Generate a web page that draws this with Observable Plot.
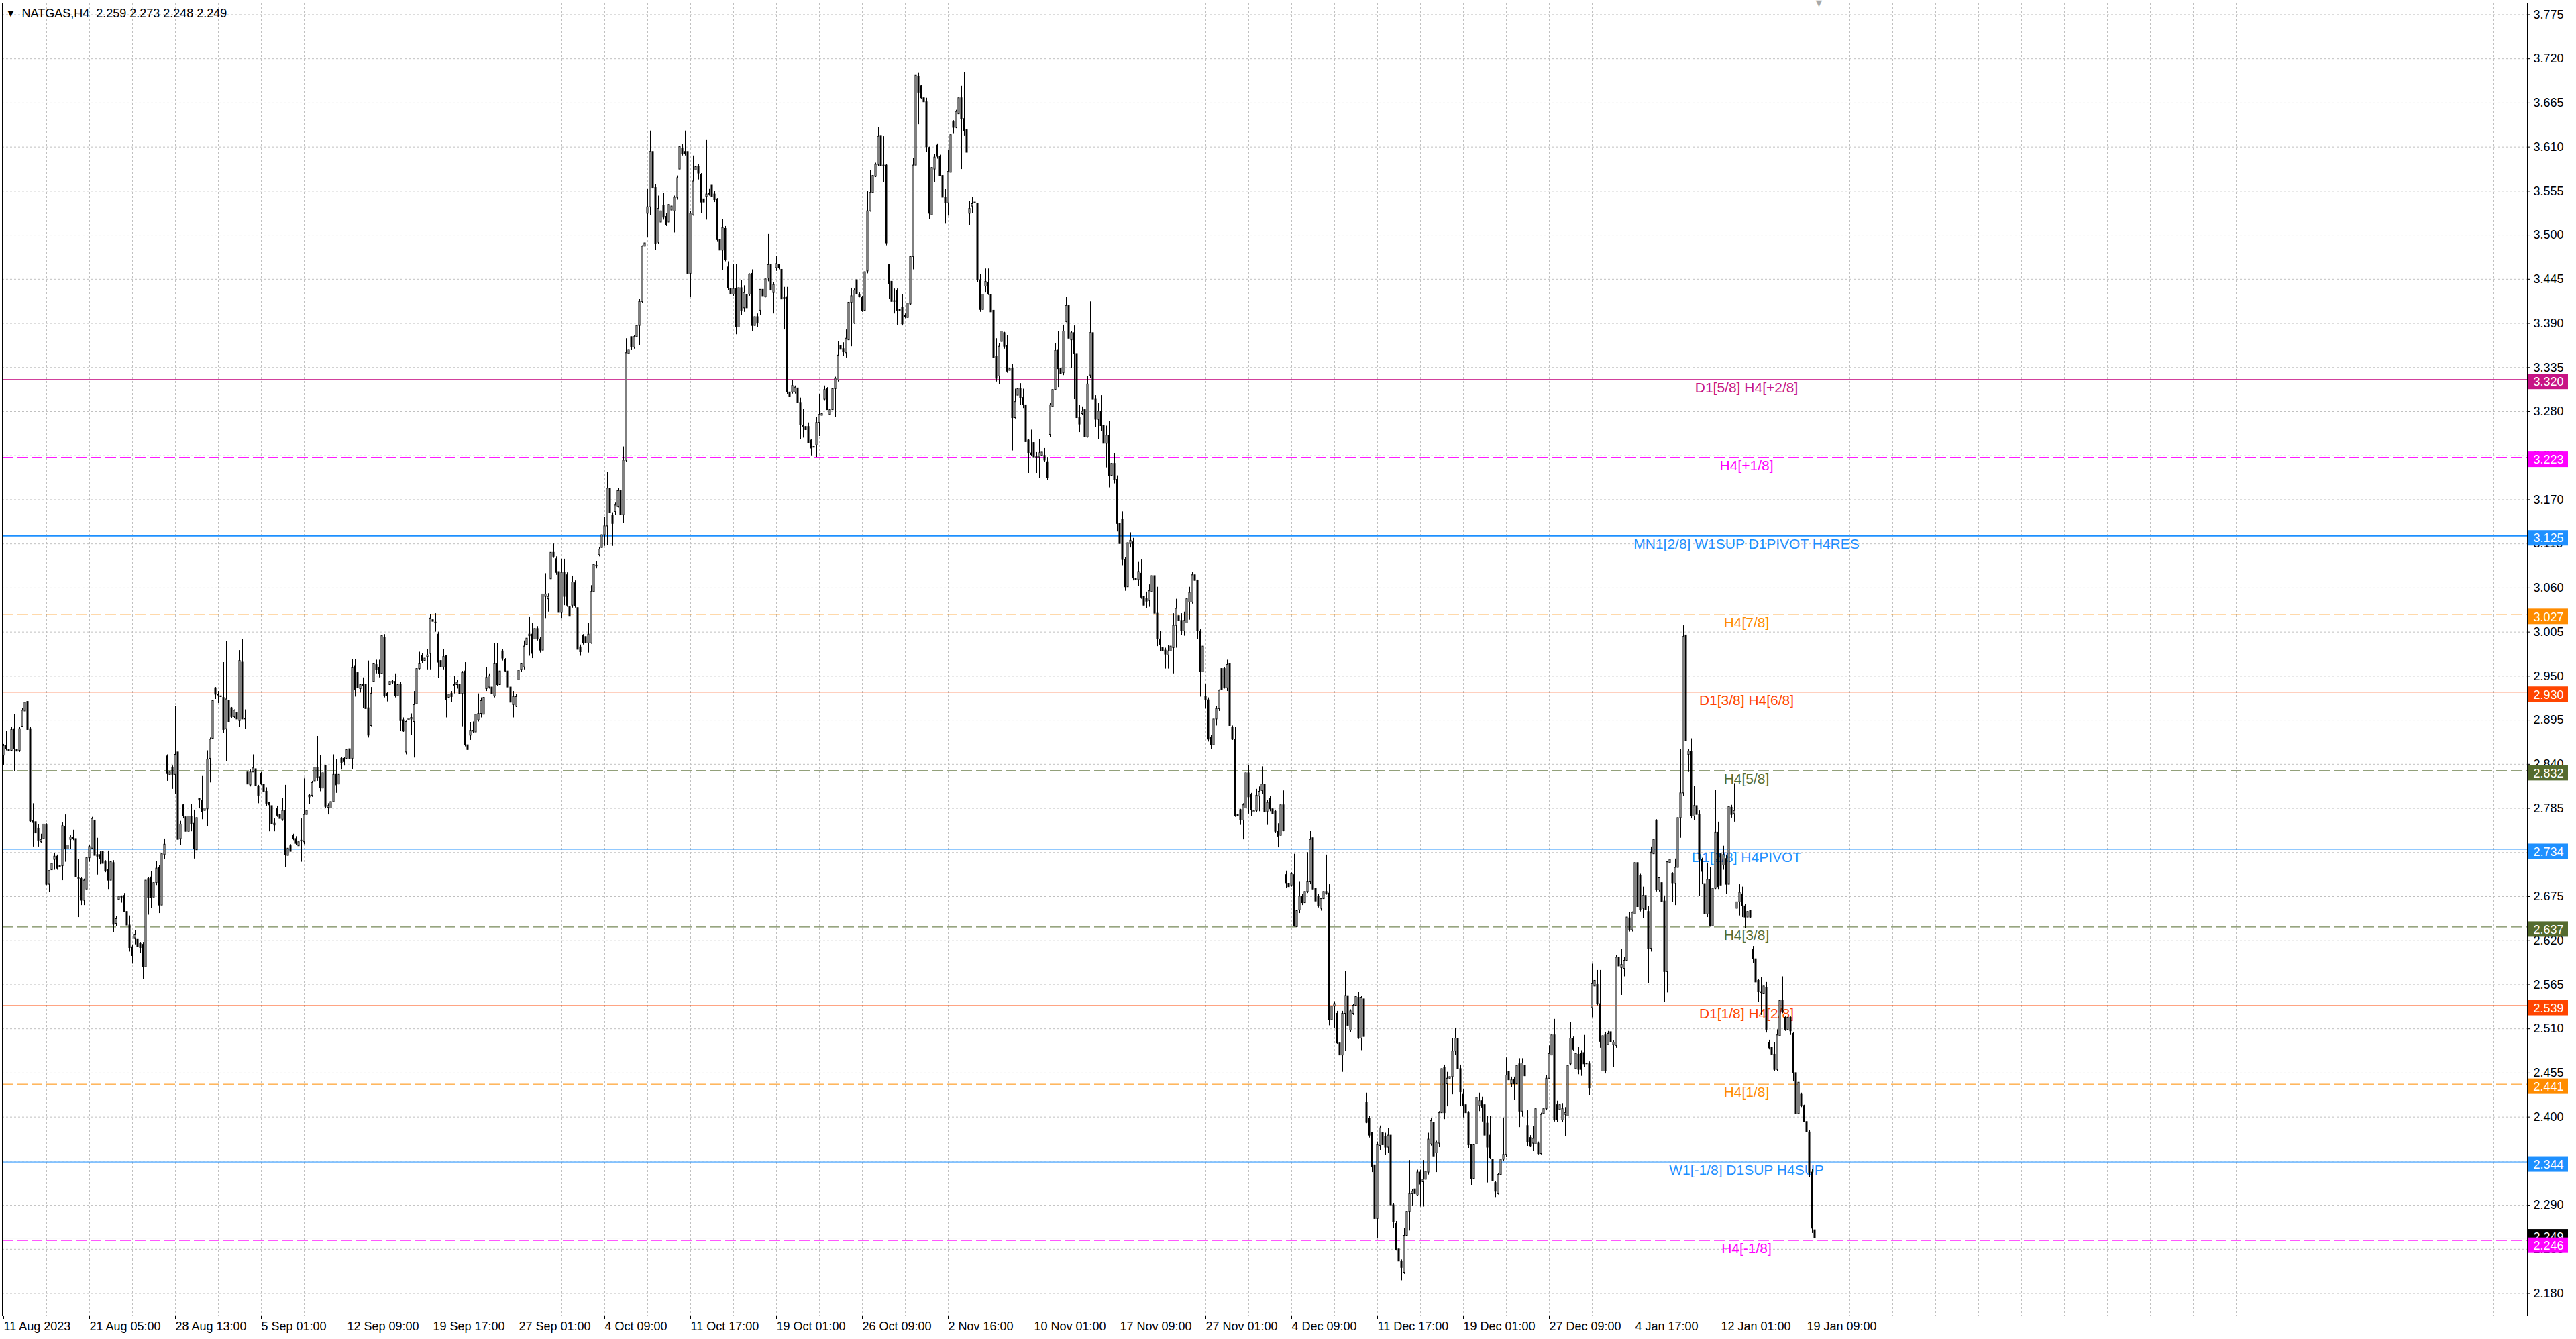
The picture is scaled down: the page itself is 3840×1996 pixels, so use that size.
<!DOCTYPE html>
<html>
<head>
<meta charset="utf-8">
<script src="https://cdn.jsdelivr.net/npm/d3@7"></script>
<script src="https://cdn.jsdelivr.net/npm/@observablehq/plot@0.6"></script>
<style>
  html, body { margin: 0; padding: 0; background: #ffffff; }
  #chart svg { display: block; }
</style>
</head>
<body>
<div id="chart"></div>
<script>
// ---------- DATA (prices in thousandths) ----------
const symbol = "NATGAS";
const period = "H4";

const open = [
2851,2863,2858,2857,2884,2858,2857,2887,2906,2918,
2884,2769,2768,2760,2743,2747,2764,2690,2708,2721,
2725,2712,2713,2762,2734,2746,2749,2747,2697,2697,
2670,2684,2723,2735,2770,2727,2727,2731,2718,2708,
2695,2717,2641,2671,2675,2676,2656,2639,2612,2623,
2622,2616,2615,2587,2697,2699,2674,2692,2711,2664,
2727,2850,2827,2836,2827,2855,2747,2789,2774,2756,
2775,2766,2733,2797,2795,2782,2784,2847,2872,2935,
2927,2925,2923,2884,2919,2910,2899,2904,2894,2967,
2897,2830,2814,2830,2834,2812,2828,2815,2806,2792,
2788,2764,2785,2777,2771,2782,2726,2738,2751,2747,
2738,2744,2743,2777,2799,2801,2819,2836,2824,2810,
2838,2786,2785,2793,2827,2815,2847,2847,2847,2859,
2847,2962,2954,2934,2939,2939,2910,2888,2943,2964,
2960,2953,2998,2928,2939,2942,2943,2925,2939,2895,
2855,2895,2896,2893,2915,2959,2975,2969,2974,2978,
3020,3017,3002,2969,2961,2975,2923,2928,2938,2939,
2939,2928,2956,2864,2876,2881,2880,2895,2903,2902,
2934,2936,2936,2925,2965,2939,2981,2970,2956,2936,
2914,2912,2945,2958,2961,2989,3000,3002,2996,3009,
2996,2982,3049,3046,3071,3104,3096,3080,3029,3079,
3076,3036,3038,3066,3035,2986,3001,2999,2991,2991,
3055,3087,3101,3110,3126,3137,3184,3150,3155,3161,
3181,3151,3219,3352,3373,3360,3373,3387,3417,3486,
3527,3535,3604,3559,3491,3516,3537,3523,3516,3531,
3530,3547,3582,3608,3604,3604,3452,3525,3581,3585,
3575,3545,3548,3552,3562,3551,3545,3494,3481,3508,
3460,3433,3426,3433,3385,3434,3409,3426,3426,3452,
3387,3398,3406,3432,3423,3446,3463,3428,3459,3463,
3457,3422,3423,3304,3304,3304,3309,3291,3261,3261,
3261,3244,3235,3238,3266,3275,3295,3308,3276,3282,
3308,3319,3362,3358,3353,3369,3416,3390,3444,3426,
3422,3406,3455,3530,3553,3573,3588,3624,3587,3587,
3463,3442,3417,3431,3407,3410,3400,3397,3414,3473,
3587,3698,3686,3671,3666,3609,3525,3582,3612,3598,
3574,3547,3540,3578,3641,3634,3651,3671,3645,3631,
3527,3536,3540,3539,3444,3407,3436,3441,3426,3406,
3349,3324,3367,3378,3362,3331,3334,3272,3300,3308,
3297,3288,3244,3228,3241,3224,3223,3225,3225,3217,
3251,3286,3307,3357,3334,3328,3392,3412,3369,3378,
3352,3272,3277,3282,3248,3325,3378,3295,3270,3280,
3262,3240,3250,3200,3215,3195,3140,3145,3095,3061,
3115,3117,3072,3070,3078,3049,3046,3044,3055,3075,
3028,2996,2985,2982,2976,2981,2985,3013,3025,3019,
3006,3016,3042,3042,3076,3069,3006,2955,2924,2920,
2873,2864,2896,2909,2959,2959,2935,2965,2886,2871,
2777,2783,2770,2785,2829,2802,2780,2782,2800,2807,
2815,2781,2797,2784,2781,2756,2751,2789,2702,2691,
2689,2702,2637,2658,2675,2667,2681,2693,2748,2685,
2675,2660,2672,2681,2679,2521,2538,2529,2492,2477,
2529,2551,2508,2529,2539,2549,2498,2547,2418,2398,
2380,2340,2273,2364,2380,2375,2362,2377,2290,2267,
2235,2220,2206,2252,2282,2304,2310,2302,2331,2319,
2322,2331,2366,2393,2355,2367,2405,2462,2441,2448,
2450,2482,2498,2460,2428,2415,2405,2365,2323,2366,
2414,2420,2415,2392,2377,2347,2318,2304,2328,2347,
2353,2457,2441,2447,2441,2466,2407,2464,2389,2374,
2367,2366,2367,2354,2404,2410,2448,2477,2502,2415,
2409,2396,2403,2401,2466,2498,2460,2478,2479,2480,
2466,2466,2536,2563,2565,2541,2457,2502,2490,2506,
2490,2489,2599,2586,2585,2595,2648,2633,2653,2717,
2701,2660,2676,2656,2610,2728,2770,2683,2692,2669,
2581,2717,2703,2691,2711,2773,2804,3001,2852,2856,
2775,2788,2777,2721,2690,2653,2696,2638,2685,2755,
2728,2714,2722,2690,2786,2778,2660,2668,2678,2663,
2649,2657,2609,2597,2570,2555,2554,2561,2493,2487,
2478,2459,2501,2545,2524,2509,2524,2504,2455,2404,
2428,2414,2394,2381,2331,2259];

const high = [
2865,2881,2862,2886,2902,2891,2886,2910,2920,2935,
2886,2791,2770,2765,2753,2771,2766,2707,2718,2729,
2727,2721,2767,2777,2742,2751,2758,2758,2721,2699,
2697,2724,2739,2774,2787,2748,2731,2735,2720,2732,
2734,2720,2650,2676,2676,2679,2693,2651,2615,2633,
2627,2618,2618,2724,2699,2706,2700,2719,2714,2741,
2747,2852,2834,2838,2912,2866,2769,2790,2799,2781,
2790,2783,2782,2798,2825,2790,2857,2873,2920,2936,
2931,2931,2967,2993,2921,2911,2908,2907,2982,2996,
2908,2851,2833,2852,2843,2814,2830,2817,2811,2793,
2790,2772,2788,2779,2798,2814,2740,2740,2753,2750,
2745,2772,2822,2796,2803,2819,2838,2875,2851,2833,
2839,2791,2793,2852,2846,2829,2849,2849,2860,2891,
2971,2971,2955,2940,2948,2964,2969,2936,2969,2970,
2970,3031,3002,2930,2944,2945,2953,2947,2942,2898,
2894,2903,2903,2931,2961,2980,2978,2978,2983,3027,
3058,3028,3005,2971,2983,2976,2945,2931,2950,2945,
2950,2956,2967,2865,2892,2893,2942,2928,2923,2925,
2961,2953,2939,2991,2991,2958,2983,2972,2958,2942,
2931,2927,2961,2966,2994,3029,3024,3016,3024,3012,
2998,3058,3078,3053,3107,3115,3099,3085,3096,3096,
3079,3038,3075,3069,3036,2989,3002,3002,3016,3063,
3093,3093,3111,3132,3148,3204,3186,3154,3166,3184,
3185,3236,3371,3360,3373,3375,3390,3420,3487,3498,
3557,3630,3610,3563,3549,3541,3552,3527,3552,3599,
3549,3574,3613,3613,3630,3634,3530,3599,3588,3588,
3577,3552,3619,3558,3564,3555,3546,3497,3520,3511,
3467,3441,3464,3464,3441,3444,3437,3428,3452,3457,
3409,3402,3432,3444,3445,3501,3476,3441,3474,3464,
3463,3435,3435,3306,3319,3312,3324,3297,3283,3266,
3266,3245,3257,3273,3301,3284,3312,3310,3283,3361,
3323,3367,3366,3366,3382,3424,3434,3433,3446,3428,
3424,3461,3555,3581,3582,3590,3634,3687,3623,3588,
3463,3444,3433,3433,3444,3426,3402,3417,3474,3596,
3702,3702,3687,3684,3671,3610,3654,3601,3614,3600,
3575,3557,3606,3634,3643,3656,3694,3686,3703,3645,
3542,3547,3552,3540,3451,3444,3458,3458,3442,3410,
3371,3365,3385,3379,3375,3334,3339,3308,3311,3315,
3308,3332,3245,3257,3242,3229,3245,3260,3234,3223,
3290,3310,3365,3380,3336,3388,3423,3414,3380,3387,
3354,3288,3286,3284,3324,3417,3380,3300,3290,3300,
3275,3262,3268,3225,3228,3200,3150,3155,3098,3129,
3129,3122,3087,3092,3095,3052,3055,3064,3078,3076,
3061,3006,2988,2985,2988,3028,3028,3046,3028,3028,
3030,3055,3061,3080,3083,3070,3008,3022,2940,2923,
2876,2914,2912,2933,2967,2961,2970,2975,2888,2886,
2778,2784,2791,2854,2839,2804,2784,2809,2812,2837,
2818,2795,2800,2787,2783,2766,2821,2807,2707,2697,
2705,2728,2660,2693,2678,2687,2730,2757,2751,2687,
2678,2673,2687,2727,2690,2553,2544,2532,2505,2532,
2582,2568,2534,2541,2551,2556,2551,2550,2430,2401,
2381,2343,2369,2389,2383,2380,2386,2389,2292,2270,
2237,2222,2261,2285,2346,2310,2313,2334,2334,2346,
2338,2380,2398,2397,2370,2407,2471,2465,2456,2465,
2498,2511,2503,2465,2435,2417,2407,2366,2396,2431,
2430,2425,2441,2401,2401,2350,2320,2330,2350,2399,
2474,2458,2450,2450,2469,2473,2473,2473,2408,2377,
2388,2412,2369,2405,2412,2452,2489,2504,2522,2420,
2420,2417,2412,2500,2518,2500,2487,2487,2483,2502,
2485,2469,2591,2585,2583,2583,2504,2506,2507,2507,
2495,2602,2609,2609,2599,2652,2655,2656,2722,2730,
2703,2687,2692,2663,2737,2755,2771,2699,2696,2676,
2719,2779,2705,2722,2779,2859,3013,3003,2859,2872,
2813,2813,2782,2723,2691,2717,2711,2723,2808,2768,
2738,2738,2726,2805,2789,2816,2675,2690,2687,2665,
2658,2658,2613,2599,2572,2574,2601,2568,2496,2489,
2493,2509,2552,2575,2525,2528,2525,2506,2458,2444,
2430,2415,2397,2383,2335,2273];

const low = [
2839,2857,2852,2856,2831,2822,2855,2886,2903,2879,
2767,2737,2750,2737,2742,2745,2689,2680,2699,2708,
2708,2697,2695,2718,2724,2734,2745,2692,2649,2664,
2664,2683,2718,2734,2724,2702,2715,2711,2705,2684,
2693,2630,2638,2667,2667,2656,2639,2606,2591,2615,
2609,2604,2572,2577,2652,2660,2670,2689,2654,2655,
2721,2819,2816,2809,2803,2739,2739,2772,2748,2753,
2756,2722,2726,2785,2771,2772,2762,2817,2871,2921,
2916,2916,2879,2844,2873,2897,2897,2894,2886,2896,
2884,2795,2812,2830,2809,2791,2814,2804,2788,2756,
2750,2756,2774,2772,2769,2711,2716,2731,2745,2739,
2737,2718,2740,2759,2790,2799,2815,2819,2806,2809,
2785,2777,2783,2793,2804,2811,2833,2838,2836,2836,
2834,2924,2931,2929,2910,2907,2873,2887,2943,2953,
2948,2950,2923,2918,2936,2940,2923,2892,2881,2880,
2852,2892,2876,2848,2914,2958,2966,2967,2958,2958,
3016,3005,2947,2960,2958,2898,2909,2917,2928,2934,
2925,2887,2862,2849,2870,2879,2876,2893,2898,2900,
2931,2934,2921,2923,2937,2937,2969,2955,2920,2876,
2898,2911,2936,2955,2958,2949,2975,2972,2994,2994,
2979,2974,3022,3030,3068,3097,3076,2978,3022,3038,
3036,3023,3035,3035,2980,2975,2989,2989,2979,2990,
3044,3084,3099,3107,3112,3113,3140,3112,3151,3160,
3148,3141,3217,3329,3357,3358,3370,3362,3415,3478,
3497,3525,3552,3481,3489,3505,3519,3511,3513,3530,
3503,3544,3579,3599,3599,3448,3423,3524,3577,3569,
3527,3500,3519,3549,3548,3541,3492,3478,3456,3467,
3431,3424,3424,3376,3363,3400,3404,3398,3424,3380,
3352,3385,3400,3415,3422,3442,3411,3402,3455,3457,
3417,3382,3301,3297,3302,3302,3289,3245,3247,3245,
3240,3225,3232,3223,3249,3270,3293,3282,3273,3281,
3273,3317,3354,3349,3347,3358,3361,3389,3425,3422,
3404,3406,3452,3529,3550,3572,3586,3577,3566,3487,
3420,3411,3402,3388,3389,3387,3396,3392,3413,3457,
3586,3638,3670,3663,3603,3520,3522,3566,3595,3573,
3546,3514,3524,3572,3626,3633,3648,3582,3624,3601,
3512,3527,3526,3441,3404,3406,3428,3425,3403,3304,
3317,3314,3361,3358,3328,3273,3231,3271,3295,3288,
3284,3241,3203,3224,3216,3203,3197,3196,3217,3194,
3248,3277,3306,3310,3277,3325,3391,3369,3334,3295,
3256,3254,3275,3237,3247,3321,3293,3260,3245,3255,
3230,3210,3185,3180,3190,3130,3105,3088,3056,3060,
3110,3069,3037,3062,3046,3037,3034,3036,3034,3000,
2987,2981,2979,2959,2959,2959,2953,2985,3010,3001,
3000,3014,3020,3040,3064,2996,2924,2946,2909,2868,
2859,2854,2888,2906,2932,2934,2931,2867,2870,2774,
2774,2764,2746,2764,2778,2775,2772,2780,2781,2803,
2746,2764,2781,2772,2754,2736,2750,2756,2685,2681,
2687,2637,2628,2654,2664,2654,2679,2690,2683,2651,
2661,2657,2669,2677,2514,2512,2511,2491,2462,2456,
2482,2514,2506,2527,2523,2497,2483,2495,2392,2374,
2331,2239,2249,2358,2354,2352,2355,2270,2261,2233,
2217,2196,2204,2251,2258,2289,2301,2301,2288,2288,
2288,2328,2364,2346,2331,2362,2379,2397,2413,2433,
2428,2477,2458,2413,2399,2401,2361,2315,2286,2365,
2407,2394,2376,2318,2347,2319,2299,2303,2327,2345,
2350,2415,2437,2421,2434,2387,2400,2432,2363,2362,
2357,2327,2353,2353,2388,2408,2447,2439,2394,2393,
2407,2393,2376,2399,2464,2482,2453,2453,2451,2462,
2451,2427,2524,2560,2539,2486,2455,2454,2490,2490,
2462,2486,2533,2552,2575,2582,2631,2631,2615,2652,
2656,2648,2649,2567,2606,2727,2681,2681,2667,2543,
2555,2714,2668,2664,2710,2748,2800,2862,2830,2772,
2770,2706,2675,2690,2651,2649,2637,2621,2684,2684,
2689,2708,2678,2678,2773,2768,2604,2651,2649,2635,
2648,2648,2592,2566,2543,2527,2539,2505,2484,2477,
2457,2457,2485,2529,2507,2494,2502,2444,2401,2393,
2412,2393,2378,2325,2255,2248];

const close = [
2863,2859,2857,2883,2859,2856,2884,2907,2917,2883,
2769,2767,2754,2745,2746,2765,2690,2707,2716,2725,
2710,2713,2763,2734,2739,2749,2747,2699,2698,2670,
2695,2723,2737,2772,2726,2725,2722,2716,2707,2695,
2718,2640,2647,2675,2674,2656,2639,2611,2601,2627,
2612,2611,2587,2695,2673,2673,2692,2710,2664,2728,
2740,2828,2830,2827,2852,2746,2765,2775,2756,2775,
2765,2734,2773,2795,2780,2785,2846,2871,2919,2927,
2926,2924,2883,2921,2893,2899,2907,2896,2969,2896,
2896,2815,2830,2835,2813,2801,2815,2806,2791,2789,
2765,2766,2776,2772,2782,2727,2735,2731,2747,2741,
2743,2745,2777,2782,2801,2817,2836,2823,2811,2829,
2787,2788,2793,2827,2814,2827,2842,2843,2858,2847,
2960,2933,2935,2939,2938,2909,2876,2928,2965,2958,
2953,3000,2925,2925,2943,2943,2925,2939,2894,2881,
2893,2897,2898,2914,2959,2965,2969,2972,2976,3022,
3018,3016,2967,2961,2974,2920,2927,2924,2939,2942,
2928,2954,2864,2858,2882,2882,2902,2903,2919,2923,
2948,2950,2928,2965,2939,2956,2972,2956,2936,2917,
2924,2924,2957,2965,2987,2997,3002,2978,3009,2996,
2982,3052,3052,3049,3104,3099,3079,3029,3079,3049,
3038,3025,3067,3037,2983,2980,2991,2991,3002,3055,
3089,3088,3108,3126,3137,3184,3154,3140,3163,3181,
3151,3219,3353,3357,3360,3373,3387,3417,3486,3490,
3535,3604,3559,3489,3533,3530,3522,3513,3538,3536,
3547,3571,3610,3601,3601,3452,3527,3567,3585,3577,
3541,3541,3551,3551,3548,3544,3494,3481,3509,3469,
3434,3426,3433,3385,3434,3406,3428,3409,3451,3387,
3398,3390,3432,3424,3445,3463,3431,3438,3464,3459,
3420,3421,3304,3298,3312,3310,3291,3263,3262,3257,
3241,3234,3236,3266,3276,3277,3307,3282,3282,3308,
3321,3350,3358,3354,3371,3416,3424,3431,3426,3423,
3406,3454,3530,3553,3574,3588,3623,3586,3586,3490,
3439,3417,3418,3406,3406,3389,3398,3415,3473,3587,
3699,3678,3671,3666,3610,3527,3584,3597,3598,3574,
3547,3540,3579,3625,3634,3654,3671,3645,3630,3603,
3533,3539,3541,3444,3407,3426,3442,3426,3404,3347,
3321,3361,3380,3361,3330,3333,3272,3292,3308,3297,
3288,3242,3228,3226,3223,3222,3228,3229,3219,3197,
3288,3307,3356,3333,3327,3380,3412,3371,3378,3352,
3272,3264,3280,3248,3314,3378,3295,3270,3280,3262,
3240,3250,3200,3215,3195,3140,3115,3095,3061,3116,
3119,3072,3070,3080,3048,3038,3043,3056,3075,3028,
2996,2989,2981,2977,2981,2987,3013,3034,3019,3006,
3019,3046,3054,3076,3069,3006,2955,2987,2920,2871,
2864,2896,2909,2932,2933,2935,2964,2888,2871,2775,
2775,2770,2789,2829,2799,2783,2782,2801,2806,2815,
2780,2792,2784,2778,2756,2750,2789,2757,2691,2687,
2703,2638,2657,2675,2667,2681,2693,2746,2684,2669,
2663,2672,2681,2678,2521,2538,2541,2492,2477,2529,
2551,2514,2532,2539,2550,2498,2549,2500,2393,2377,
2338,2273,2365,2386,2365,2362,2377,2290,2269,2234,
2220,2212,2252,2282,2304,2307,2304,2331,2316,2322,
2332,2372,2395,2351,2368,2405,2460,2405,2448,2450,
2482,2498,2460,2431,2414,2405,2365,2323,2365,2424,
2420,2412,2377,2362,2349,2320,2307,2328,2347,2353,
2452,2446,2446,2441,2464,2407,2467,2451,2369,2363,
2373,2410,2354,2403,2410,2448,2479,2502,2396,2396,
2415,2410,2405,2464,2498,2484,2479,2459,2459,2466,
2467,2436,2566,2570,2541,2494,2501,2457,2504,2493,
2493,2599,2588,2590,2595,2649,2633,2655,2717,2662,
2658,2676,2658,2610,2730,2746,2683,2698,2668,2581,
2718,2721,2691,2711,2773,2804,2999,2869,2856,2775,
2788,2777,2721,2706,2653,2696,2638,2685,2755,2687,
2689,2727,2690,2787,2777,2782,2668,2680,2663,2649,
2656,2649,2597,2568,2556,2556,2563,2509,2486,2478,
2459,2502,2545,2531,2509,2524,2507,2455,2404,2443,
2414,2394,2381,2330,2261,2249];

// time-axis labels and the bar index each one sits on
const timeLabels = ["11 Aug 2023","21 Aug 05:00","28 Aug 13:00","5 Sep 01:00","12 Sep 09:00","19 Sep 17:00",
  "27 Sep 01:00","4 Oct 09:00","11 Oct 17:00","19 Oct 01:00","26 Oct 09:00","2 Nov 16:00","10 Nov 01:00",
  "17 Nov 09:00","27 Nov 01:00","4 Dec 09:00","11 Dec 17:00","19 Dec 01:00","27 Dec 09:00","4 Jan 17:00",
  "12 Jan 01:00","19 Jan 09:00"];
const timeLabelBars = [0,32,64,96,128,160,192,224,256,288,320,352,384,416,448,480,512,544,576,608,640,672];

// price-axis ticks
const priceTicks = [3.775,3.720,3.665,3.610,3.555,3.500,3.445,3.390,3.335,3.280,3.225,3.170,3.115,3.060,
  3.005,2.950,2.895,2.840,2.785,2.730,2.675,2.620,2.565,2.510,2.455,2.400,2.345,2.290,2.235,2.180];

// Murrey-math / pivot levels
const levelValues = [3.320,3.223,3.125,3.027,2.930,2.832,2.734,2.637,2.539,2.441,2.344,2.246];
const levelNames = ["D1[5/8] H4[+2/8]","H4[+1/8]","MN1[2/8] W1SUP D1PIVOT H4RES","H4[7/8]","D1[3/8] H4[6/8]",
  "H4[5/8]","D1[2/8] H4PIVOT","H4[3/8]","D1[1/8] H4[2/8]","H4[1/8]","W1[-1/8] D1SUP H4SUP","H4[-1/8]"];

// ---------- STYLE ----------
const levelColors = ["#c71585","#ff00ff","#1e90ff","#ff8c00","#ff4500","#556b2f","#1e90ff","#556b2f","#ff4500","#ff8c00","#1e90ff","#ff00ff"];
const levelDashed = [false,true,false,true,false,true,false,true,false,true,false,true];
const levelWidths = [1,1,2,1,1,1,1,1,1,1,1,1];
const levelTagShift = [0,0,0,0,0,0,0,0,0,0,0,4];
const bidTagShift = -5;
const levelLabelBar = 649.5;
const shiftMarkerBar = 676.5;

const W = 3840, H = 1996, mL = 3, mT = 4, mR = 73, mB = 35;
const xDomain = [-0.5, 940.5];
const yDomain = [2.1520, 3.7896];
const frameW = W - mL - mR, frameH = H - mT - mB;
const font = "'Liberation Sans', Arial, Helvetica, sans-serif";
const gridColor = "#c0c0c0";

if (![open, high, low].every(a => a.length === close.length)) {
  throw new Error("length mismatch " + [open.length, high.length, low.length, close.length].join(","));
}

const bars = close.map((c, i) => {
  const o = open[i] / 1000, cc = c / 1000;
  return {i, o, c: cc, h: Math.max(high[i] / 1000, o, cc), l: Math.min(low[i] / 1000, o, cc)};
});
const bull = bars.filter(d => d.c >= d.o);
const bear = bars.filter(d => d.c < d.o);
const last = bars[bars.length - 1];
const fmt = v => v.toFixed(3);
const title = `${symbol},${period}\u00a0\u00a0${fmt(last.o)} ${fmt(last.h)} ${fmt(last.l)} ${fmt(last.c)}`;
const gridBars = d3.range(16, 940, 16);

const tag = (value, color, shift) => [
  Plot.rect([value], {x1: xDomain[1], x2: xDomain[1], y1: d => d, y2: d => d, fill: color,
    insetLeft: 1, insetRight: -61, insetTop: -8 + shift, insetBottom: -15 - shift}),
  Plot.text([value], {y: d => d, frameAnchor: "right", text: fmt, fill: "white", textAnchor: "start",
    dx: 9, dy: 4 + shift, fontSize: 18})
];

const marks = [
  // grid
  Plot.ruleY(priceTicks, {stroke: gridColor, strokeDasharray: "3,3"}),
  Plot.ruleX(gridBars, {stroke: gridColor, strokeDasharray: "3,3"}),
  // bid line
  Plot.ruleY([last.c], {stroke: "#b8b8b8"}),
  // level lines
  ...levelValues.map((v, k) => Plot.ruleY([v], {stroke: levelColors[k], strokeWidth: levelWidths[k],
    strokeDasharray: levelDashed[k] ? "16,6" : null})),
  // level names
  ...levelValues.map((v, k) => Plot.text([levelNames[k]], {x: levelLabelBar, y: v, text: d => d,
    fill: levelColors[k], fontSize: 21, lineAnchor: "top", dy: 4, textAnchor: "middle"})),
  // candles
  Plot.ruleX(bars, {x: "i", y1: "l", y2: "h", stroke: "black", strokeWidth: 1}),
  Plot.rect(bear, {x1: d => d.i - 0.25, x2: d => d.i + 0.25, y1: "o", y2: "c", fill: "black", stroke: "black", strokeWidth: 1}),
  Plot.rect(bull, {x1: d => d.i - 0.25, x2: d => d.i + 0.25, y1: "o", y2: "c", fill: "white", stroke: "black", strokeWidth: 1}),
  // frame
  Plot.frame({stroke: "black"}),
  // price axis
  Plot.ruleY(priceTicks, {stroke: "black", insetLeft: frameW, insetRight: -5}),
  Plot.text(priceTicks, {y: d => d, frameAnchor: "right", text: fmt, textAnchor: "start", dx: 9, fontSize: 18, fill: "black"}),
  // time axis
  Plot.ruleX(timeLabelBars, {stroke: "black", insetTop: frameH, insetBottom: -5}),
  Plot.text(timeLabels, {x: (d, k) => timeLabelBars[k], text: d => d, frameAnchor: "bottom", textAnchor: "start",
    lineAnchor: "top", dy: 9, dx: 0, fontSize: 18, fill: "black"}),
  // price tags
  ...tag(last.c, "#000000", bidTagShift),
  ...levelValues.flatMap((v, k) => tag(v, levelColors[k], levelTagShift[k])),
  // title
  Plot.text(["\u25BC"], {frameAnchor: "top-left", dx: 5, dy: 10, fontSize: 15, textAnchor: "start", lineAnchor: "top", fill: "black"}),
  Plot.text([title], {frameAnchor: "top-left", dx: 29, dy: 9, fontSize: 18, textAnchor: "start", lineAnchor: "top", fill: "black"}),
  // chart-shift marker
  Plot.text(["\u25BC"], {x: shiftMarkerBar, frameAnchor: "top", dy: -6, fontSize: 16, lineAnchor: "top", fill: "#a8a8a8"})
];

const chart = Plot.plot({
  width: W, height: H,
  marginLeft: mL, marginTop: mT, marginRight: mR, marginBottom: mB,
  x: {domain: xDomain, axis: null},
  y: {domain: yDomain, axis: null},
  style: {background: "white", fontFamily: font, overflow: "visible"},
  marks
});
document.getElementById("chart").appendChild(chart);
</script>
</body>
</html>
